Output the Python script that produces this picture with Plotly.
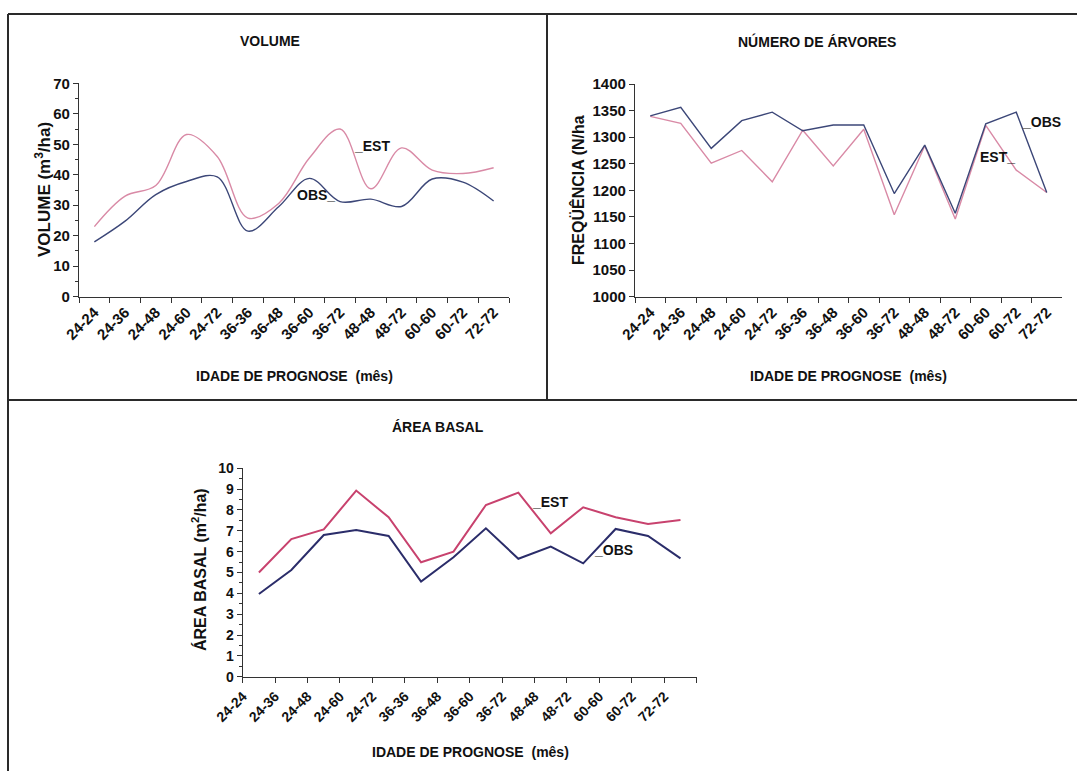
import numpy as np
import plotly.graph_objects as go

W, H = 1077, 771

categorias = ["24-24", "24-36", "24-48", "24-60", "24-72", "36-36", "36-48",
              "36-60", "36-72", "48-48", "48-72", "60-60", "60-72", "72-72"]

# Volume (m3/ha)
vol_obs = [18, 24.8, 33.5, 37.8, 39.3, 21.5, 29.5, 38.8, 31.2, 32.0, 29.6, 38.6, 37.6, 31.4]
vol_est = [23, 33.0, 36.5, 53.2, 46.0, 25.8, 30.6, 45.5, 55.0, 35.4, 48.8, 41.5, 40.4, 42.3]

# Número de árvores (N/ha)
arv_obs = [1340, 1356, 1279, 1331, 1347, 1312, 1323, 1323, 1194, 1285, 1157, 1325, 1347, 1196]
arv_est = [1339, 1326, 1251, 1275, 1216, 1313, 1246, 1315, 1154, 1284, 1146, 1322, 1238, 1196]

# Área basal (m2/ha)
ab_obs = [3.97, 5.12, 6.80, 7.04, 6.75, 4.56, 5.73, 7.12, 5.66, 6.24, 5.44, 7.09, 6.75, 5.68]
ab_est = [5.00, 6.60, 7.07, 8.93, 7.65, 5.49, 6.00, 8.24, 8.83, 6.88, 8.13, 7.65, 7.33, 7.52]

FONT = "Liberation Sans Narrow, Arial Narrow, Liberation Sans, Arial, sans-serif"
FONT_WIDE = "Liberation Sans, Arial, sans-serif"
INK = "#111111"
PINK = "#d98aa6"
NAVY = "#3c4778"
RED = "#c8426e"
NAVY2 = "#2b2d6a"


def px_x(px):
    return px / W


def px_y(py):
    return 1 - py / H


fig = go.Figure()

# top-left: volume
fig.add_trace(go.Scatter(x=categorias, y=vol_est, mode="lines", xaxis="x", yaxis="y",
                         line=dict(color=PINK, width=1.4, shape="spline", smoothing=1.0),
                         showlegend=False))
fig.add_trace(go.Scatter(x=categorias, y=vol_obs, mode="lines", xaxis="x", yaxis="y",
                         line=dict(color=NAVY, width=1.4, shape="spline", smoothing=1.0),
                         showlegend=False))

# top-right: number of trees
fig.add_trace(go.Scatter(x=categorias, y=arv_est, mode="lines", xaxis="x2", yaxis="y2",
                         line=dict(color=PINK, width=1.4), showlegend=False))
fig.add_trace(go.Scatter(x=categorias, y=arv_obs, mode="lines", xaxis="x2", yaxis="y2",
                         line=dict(color=NAVY, width=1.4), showlegend=False))

# bottom: basal area (points sit between the labelled ticks)
x_ab = np.arange(len(categorias)) + 0.5
fig.add_trace(go.Scatter(x=x_ab, y=ab_est, mode="lines", xaxis="x3", yaxis="y3",
                         line=dict(color=RED, width=2), showlegend=False))
fig.add_trace(go.Scatter(x=x_ab, y=ab_obs, mode="lines", xaxis="x3", yaxis="y3",
                         line=dict(color=NAVY2, width=2), showlegend=False))

tickfont = dict(family=FONT, size=15, color=INK, weight="bold")
tickfont_w = dict(family=FONT_WIDE, size=14, color=INK, weight="bold")

cat_axis = dict(type="category", tickson="boundaries", ticks="outside", ticklen=5,
                tickcolor="#333", showline=True, linecolor="#333", linewidth=1.2,
                showgrid=False, zeroline=False, tickangle=-45, tickfont=tickfont,
                range=[-0.5, 13.5], fixedrange=True, automargin=False)

y_axis = dict(showline=True, linecolor="#333", linewidth=1.2, ticks="outside", ticklen=5,
              tickcolor="#333", showgrid=False, zeroline=False, tickfont=tickfont,
              fixedrange=True, automargin=False)

fig.update_layout(
    width=W, height=H,
    margin=dict(l=0, r=0, t=0, b=0, pad=0),
    paper_bgcolor="white", plot_bgcolor="white",
    xaxis=dict(cat_axis, domain=[px_x(79), px_x(509)], anchor="y"),
    yaxis=dict(y_axis, domain=[px_y(296.7), px_y(83.3)], range=[0, 70], dtick=10,
               minor=dict(dtick=5, ticks="outside", ticklen=3, tickcolor="#333"),
               anchor="x"),
    xaxis2=dict(cat_axis, domain=[px_x(635), px_x(1062)], anchor="y2"),
    yaxis2=dict(y_axis, domain=[px_y(296.7), px_y(84)], range=[1000, 1400], dtick=50,
                anchor="x2"),
    xaxis3=dict(type="linear", range=[0, 14], tickmode="array",
                tickvals=list(range(len(categorias) + 1)),
                ticktext=categorias + [" "], ticks="outside", ticklen=5, tickcolor="#333",
                showline=True, linecolor="#333", linewidth=1.2, showgrid=False,
                zeroline=False, tickangle=-45, tickfont=tickfont_w, automargin=False,
                domain=[px_x(242.7), px_x(696.7)], anchor="y3", fixedrange=True),
    yaxis3=dict(y_axis, domain=[px_y(676.7), px_y(468.3)], range=[0, 10], dtick=1,
                minor=dict(dtick=0.5, ticks="outside", ticklen=3, tickcolor="#333"),
                tickfont=tickfont_w, anchor="x3"),
)


def label(text, x, y, size=13, family=FONT, angle=0, xanchor="center", yanchor="middle"):
    fig.add_annotation(text=text, x=px_x(x), y=px_y(y), xref="paper", yref="paper",
                       showarrow=False, textangle=angle, xanchor=xanchor, yanchor=yanchor,
                       font=dict(family=family, size=size, color=INK, weight="bold"))


# panel titles
label("VOLUME", 270, 41, size=14)
label("NÚMERO DE ÁRVORES", 817, 41, size=14)
label("ÁREA BASAL", 438, 427, size=14, family=FONT_WIDE)

# axis titles
label("VOLUME (m<sup>3</sup>/ha)", 43, 190, size=17, family=FONT_WIDE, angle=-90)
label("IDADE DE PROGNOSE  (mês)", 294, 376, size=14)
label("FREQÜÊNCIA (N/ha", 578, 190, size=16, family=FONT_WIDE, angle=-90)
label("IDADE DE PROGNOSE  (mês)", 848, 376, size=14)
label("ÁREA BASAL (m<sup>2</sup>/ha)", 199, 570, size=16, family=FONT_WIDE, angle=-90)
label("IDADE DE PROGNOSE  (mês)", 470, 752, size=14, family=FONT_WIDE)

# series labels
label("_EST", 352, 146, size=14, xanchor="left")
label("OBS_", 295, 195, size=14, xanchor="left")
label("_OBS", 1020, 122, size=14, xanchor="left")
label("EST_", 978, 157, size=14, xanchor="left")
label("_EST", 530, 502, size=14, family=FONT_WIDE, xanchor="left")
label("_OBS", 592, 550, size=14, family=FONT_WIDE, xanchor="left")

# panel frames
frame = dict(type="line", xref="paper", yref="paper", line=dict(color="#2a2a2a", width=2))
for x0, y0, x1, y1 in [(8, 14, 1077, 14), (8, 14, 8, 771), (547, 14, 547, 400),
                       (8, 400, 1077, 400)]:
    fig.add_shape(frame, x0=px_x(x0), y0=px_y(y0), x1=px_x(x1), y1=px_y(y1))

fig.write_html("out.html")
